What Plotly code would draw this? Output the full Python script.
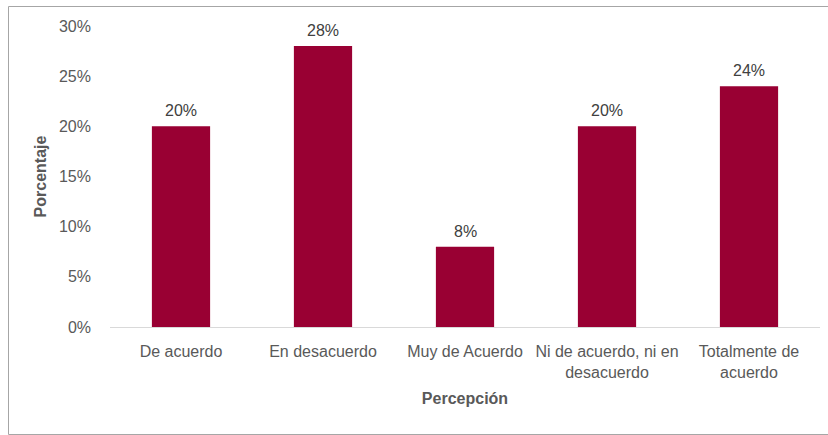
import plotly.graph_objects as go

categories = ["De acuerdo", "En desacuerdo", "Muy de Acuerdo",
              "Ni de acuerdo, ni en<br>desacuerdo", "Totalmente de<br>acuerdo"]
values = [0.20, 0.28, 0.08, 0.20, 0.24]
labels = ["20%", "28%", "8%", "20%", "24%"]
y_ticks = [0, 0.05, 0.10, 0.15, 0.20, 0.25, 0.30]
y_tick_text = ["0%", "5%", "10%", "15%", "20%", "25%", "30%"]

W, H = 828, 435
L, R, T, B = 110, 8, 26, 108
pw, ph = W - L - R, H - T - B

def px(x):
    return (x - L) / pw

def py(y):
    return (H - B - y) / ph

FONT = "Liberation Sans, Arial"

fig = go.Figure(go.Bar(
    x=categories, y=values,
    marker=dict(color="#990033", line=dict(width=0)),
    cliponaxis=False,
    hoverinfo="skip",
))

annotations = [
    dict(x=c, y=v, text=t, xref="x", yref="y", showarrow=False,
         yanchor="bottom", yshift=5,
         font=dict(family=FONT, size=16, color="#404040"))
    for c, v, t in zip(categories, values, labels)
]

fig.update_layout(
    width=W, height=H,
    margin=dict(l=L, r=R, t=T, b=B, autoexpand=False),
    paper_bgcolor="white", plot_bgcolor="white",
    bargap=0.59,
    showlegend=False,
    font=dict(family=FONT, size=16, color="#595959"),
    xaxis=dict(
        showgrid=False, showline=True, linecolor="#d9d9d9", linewidth=1,
        ticks="", ticklabelstandoff=10, tickfont=dict(size=16, color="#595959"),
        title=dict(text="<b>Percepción</b>", font=dict(size=16, color="#595959"), standoff=12),
    ),
    yaxis=dict(
        range=[0, 0.30], tickvals=y_ticks, ticktext=y_tick_text,
        showgrid=False, zeroline=False, showline=False, ticks="",
        ticklabelstandoff=18,
        tickfont=dict(size=16, color="#595959"),
        title=dict(text="<b>Porcentaje</b>", font=dict(size=16, color="#595959"), standoff=8),
    ),
    annotations=annotations,
    shapes=[dict(type="rect", xref="paper", yref="paper",
                 x0=px(8.5), x1=px(845), y0=py(434.5), y1=py(6.5),
                 line=dict(color="#a6a6a6", width=1), fillcolor="rgba(0,0,0,0)", layer="below")],
)

fig.write_html("out.html", config={"displayModeBar": False},
               post_script="document.body.style.margin='0px';")
